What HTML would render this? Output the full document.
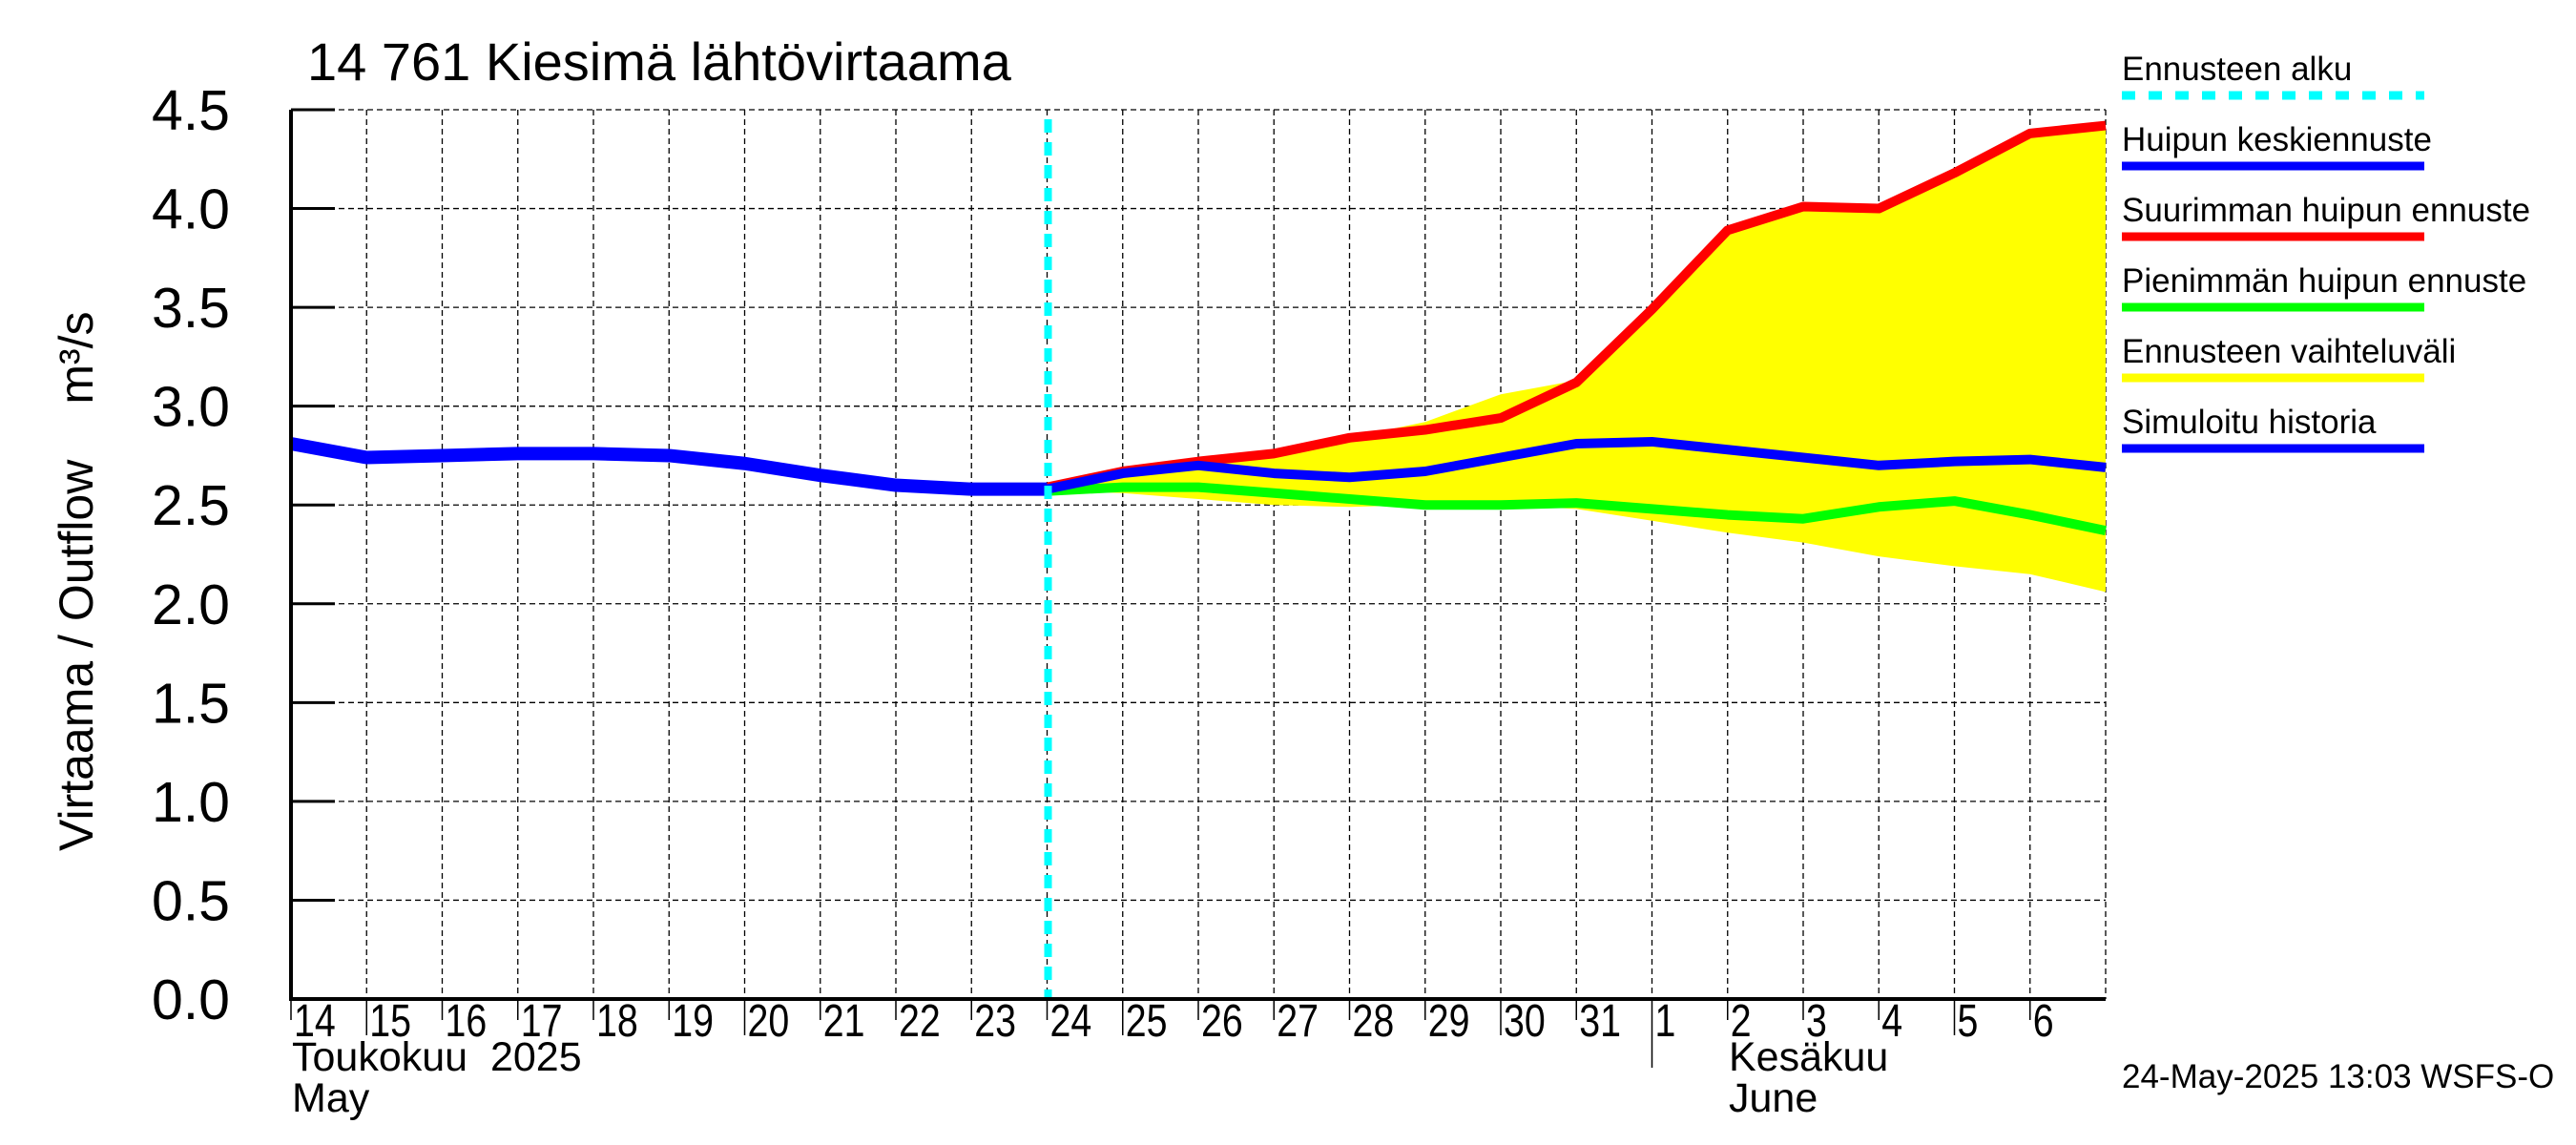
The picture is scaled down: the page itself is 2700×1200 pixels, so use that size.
<!DOCTYPE html>
<html><head><meta charset="utf-8">
<style>
html,body{margin:0;padding:0;background:#fff;}
svg{display:block;}
text{font-family:"Liberation Sans",sans-serif;fill:#000;}
</style></head>
<body>
<svg id="chart" width="2700" height="1200" viewBox="0 0 2700 1200" xmlns="http://www.w3.org/2000/svg">
<rect width="2700" height="1200" fill="#fff"/>
<text x="322" y="84" font-size="56">14 761 Kiesimä lähtövirtaama</text>
<text transform="translate(97,892) rotate(-90)" font-size="50">Virtaama / Outflow<tspan dx="58">m³/s</tspan></text>
<g id="grid"></g>
<g id="series"></g>
<g id="axes"></g>
<g id="legend"></g>
<text x="2224" y="1140" font-size="35">24-May-2025 13:03 WSFS-O</text>
</svg>
<script>
const dayLabels = ["14","15","16","17","18","19","20","21","22","23","24","25","26","27","28","29","30","31","1","2","3","4","5","6"];
const yTicks = [0,0.5,1,1.5,2,2.5,3,3.5,4,4.5];
const yTickLabels = ["0.0","0.5","1.0","1.5","2.0","2.5","3.0","3.5","4.0","4.5"];
const historyDays = [0,1,2,3,4,5,6,7,8,9,10];
const historyVals = [2.81,2.74,2.75,2.76,2.76,2.75,2.71,2.65,2.60,2.58,2.58];
const fcDays = [10,11,12,13,14,15,16,17,18,19,20,21,22,23,24];
const meanVals = [2.58,2.66,2.70,2.66,2.64,2.67,2.74,2.81,2.82,2.78,2.74,2.70,2.72,2.73,2.69];
const maxVals = [2.59,2.67,2.72,2.76,2.84,2.88,2.94,3.12,3.49,3.89,4.01,4.00,4.18,4.38,4.42];
const minVals = [2.57,2.59,2.59,2.56,2.53,2.50,2.50,2.51,2.48,2.45,2.43,2.49,2.52,2.45,2.37];
const bandUpper = [2.60,2.68,2.72,2.76,2.84,2.92,3.06,3.13,3.49,3.89,4.01,4.00,4.18,4.38,4.42];
const bandLower = [2.57,2.56,2.53,2.50,2.49,2.50,2.50,2.48,2.42,2.36,2.31,2.24,2.19,2.15,2.06];
const forecastStartDay = 10;

const X0=305, X1=2207, Y0=1047, Y1=115, NDAYS=24, YMAX=4.5;
const xs = d => X0 + (X1-X0)*d/NDAYS;
const ys = v => Y0 - (Y0-Y1)*v/YMAX;
const NS="http://www.w3.org/2000/svg";
function mk(tag, parent, attrs){const e=document.createElementNS(NS,tag);for(const k in attrs)e.setAttribute(k,attrs[k]);parent.appendChild(e);return e;}
const grid=document.getElementById('grid'), series=document.getElementById('series'), axes=document.getElementById('axes'), legend=document.getElementById('legend');

for(let d=1; d<=NDAYS; d++){
  const l=mk('line',grid,{x1:xs(d),x2:xs(d),y1:Y1,y2:Y0,stroke:'#000','stroke-width':1.3,'stroke-dasharray':'6,4'});
  
  
}
yTicks.forEach(v=>{ if(v===0) return;
  const l=mk('line',grid,{x1:X0,x2:X1,y1:ys(v),y2:ys(v),stroke:'#000','stroke-width':1.3,'stroke-dasharray':'6,4'});
  
  
});

let pts=fcDays.map((d,i)=>xs(d)+','+ys(bandUpper[i]));
for(let i=fcDays.length-1;i>=0;i--) pts.push(xs(fcDays[i])+','+ys(bandLower[i]));
const band=mk('polygon',series,{points:pts.join(' '),fill:'#ffff00'});



function line(days,vals,color,w,name){
  const p=mk('polyline',series,{points:days.map((d,i)=>xs(d)+','+ys(vals[i])).join(' '),fill:'none',stroke:color,'stroke-width':w,'stroke-linejoin':'round'});
  
  
}
line(fcDays,minVals,'#00ff00',10,'min-peak-forecast-line');
line(fcDays,maxVals,'#ff0000',10,'max-peak-forecast-line');
line(fcDays,meanVals,'#0000ff',10,'mean-peak-forecast-line');
line(historyDays,historyVals,'#0000ff',14,'simulated-history-line');

const fl=mk('line',series,{x1:xs(forecastStartDay)+1,x2:xs(forecastStartDay)+1,y1:Y1+10,y2:Y0,stroke:'#00ffff','stroke-width':8,'stroke-dasharray':'14,10'});



const ax=mk('line',axes,{x1:X0,x2:X0,y1:Y1,y2:Y0,stroke:'#000','stroke-width':4});


const bx=mk('line',axes,{x1:X0-2,x2:X1,y1:Y0,y2:Y0,stroke:'#000','stroke-width':4});


yTicks.forEach((v,i)=>{
  const t=mk('line',axes,{x1:X0,x2:X0+46,y1:ys(v),y2:ys(v),stroke:'#000','stroke-width':3});
  
  
  const tx=mk('text',axes,{x:X0-64,y:ys(v)+21,'text-anchor':'end','font-size':59});
  tx.textContent=yTickLabels[i];
  
  
});
dayLabels.forEach((lab,d)=>{
  const n=parseInt(lab);
  const len = (n%5===0)?38:(n===1?72:22);
  const t=mk('line',axes,{x1:xs(d),x2:xs(d),y1:Y0,y2:Y0+len,stroke:'#000','stroke-width':1.5});
  
  
  const bx0=xs(d)+3;
  const tx=mk('text',axes,{x:bx0,y:1086,'font-size':48,transform:'translate('+bx0+',0) scale(0.82,1) translate('+(-bx0)+',0)'});
  tx.textContent=lab;
  
  
});
[["Toukokuu\u00a0\u00a02025",306,1122],["May",306,1165],["Kesäkuu",1812,1122],["June",1812,1165]].forEach(m=>{
  const tx=mk('text',axes,{x:m[1],y:m[2],'font-size':43});
  tx.textContent=m[0];
  
  
});

const legItems=[["Ennusteen alku","#00ffff",true],["Huipun keskiennuste","#0000ff"],["Suurimman huipun ennuste","#ff0000"],["Pienimmän huipun ennuste","#00ff00"],["Ennusteen vaihteluväli","#ffff00"],["Simuloitu historia","#0000ff"]];
legItems.forEach((it,i)=>{
  const y0=84+i*74;
  const tx=mk('text',legend,{x:2224,y:y0,'font-size':35});
  tx.textContent=it[0];
  
  
  const a={x1:2224,x2:2541,y1:y0+16,y2:y0+16,stroke:it[1],'stroke-width':9};
  if(it[2]) a['stroke-dasharray']='14,14';
  const l=mk('line',legend,a);
  
  
});
</script>
</body></html>
